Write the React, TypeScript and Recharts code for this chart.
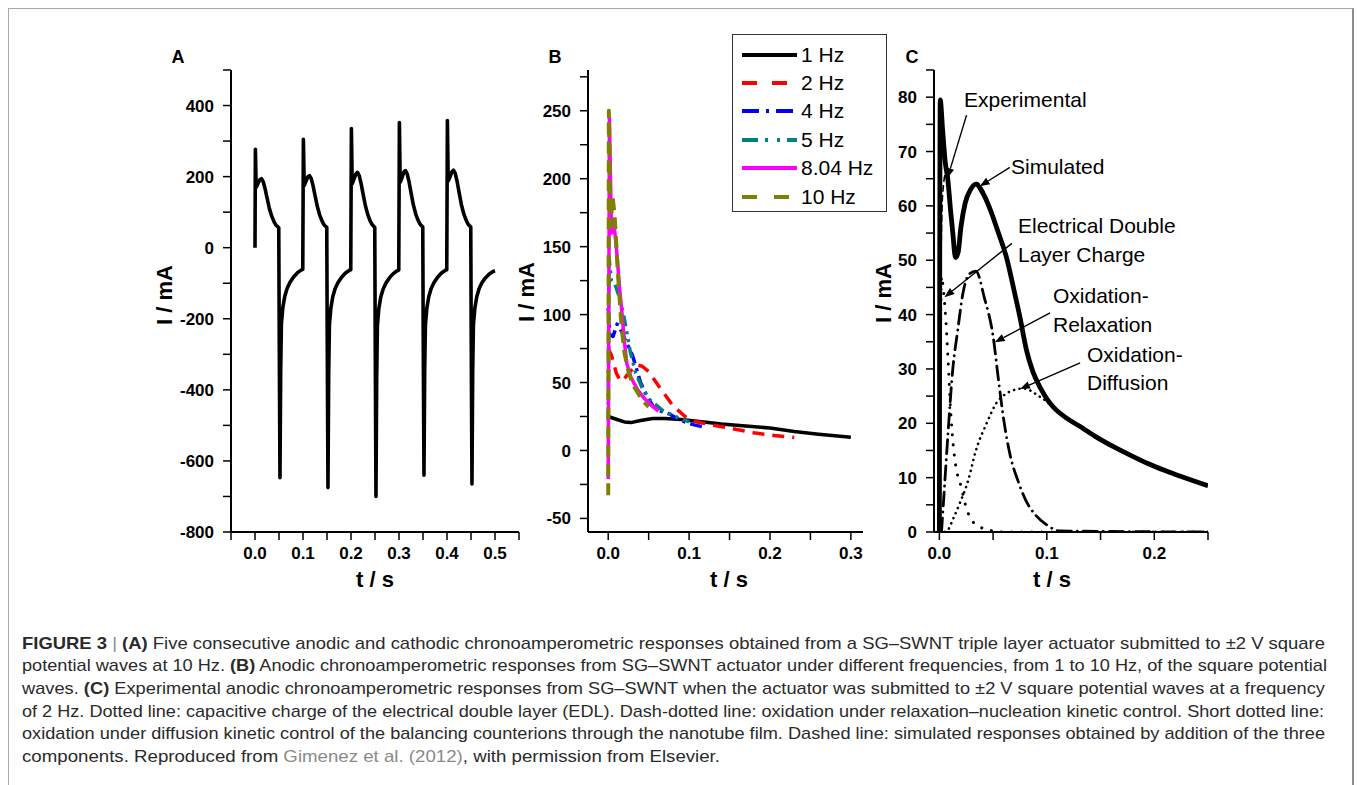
import React from 'react';
import { LineChart, Line, XAxis, YAxis, ReferenceLine } from 'recharts';

// ---------------- Panel A: 10 Hz, five cycles ----------------
const panelA: number[][] = [
  [0, 0], [0.0008, 277], [0.0025, 170], [0.006, 180], [0.01, 191], [0.0135, 194], [0.017, 186], [0.021, 166], [0.025, 141], [0.03, 110], [0.035, 88], [0.04, 72], [0.044, 63], [0.0495, 56],
  [0.0505, -250], [0.052, -647], [0.0535, -350], [0.055, -215], [0.058, -168], [0.062, -137], [0.067, -114], [0.073, -97], [0.08, -83], [0.088, -71], [0.096, -63], [0.0995, -61],
  [0.1008, 305], [0.1025, 175], [0.106, 186], [0.11, 199], [0.1135, 203], [0.117, 195], [0.121, 174], [0.125, 147], [0.13, 115], [0.135, 91], [0.14, 74], [0.144, 64], [0.1495, 57],
  [0.1505, -260], [0.152, -675], [0.1535, -360], [0.155, -218], [0.158, -170], [0.162, -138], [0.167, -115], [0.173, -98], [0.18, -84], [0.188, -72], [0.196, -64], [0.1995, -62],
  [0.2008, 335], [0.2025, 180], [0.206, 192], [0.21, 207], [0.2135, 212], [0.217, 203], [0.221, 181], [0.225, 152], [0.23, 118], [0.235, 93], [0.24, 75], [0.244, 65], [0.2495, 57],
  [0.2505, -270], [0.252, -700], [0.2535, -370], [0.255, -220], [0.258, -171], [0.262, -139], [0.267, -116], [0.273, -99], [0.28, -85], [0.288, -73], [0.296, -65], [0.2995, -63],
  [0.3008, 352], [0.3025, 184], [0.306, 196], [0.31, 212], [0.3135, 217], [0.317, 208], [0.321, 185], [0.325, 155], [0.33, 120], [0.335, 94], [0.34, 76], [0.344, 66], [0.3495, 58],
  [0.3505, -260], [0.352, -640], [0.3535, -350], [0.355, -218], [0.358, -170], [0.362, -138], [0.367, -115], [0.373, -98], [0.38, -84], [0.388, -72], [0.396, -64], [0.3995, -62],
  [0.4008, 358], [0.4025, 188], [0.406, 198], [0.41, 213], [0.4135, 218], [0.417, 210], [0.421, 187], [0.425, 157], [0.43, 121], [0.435, 95], [0.44, 77], [0.444, 66], [0.4495, 58],
  [0.4505, -265], [0.452, -665], [0.4535, -355], [0.455, -218], [0.458, -170], [0.462, -138], [0.467, -115], [0.473, -98], [0.48, -85], [0.488, -74], [0.496, -67], [0.5, -65],
];

// ---------------- Panel B: anodic responses at several frequencies ----------------
const bHz1: number[][] = [[0, 25], [0.01, 23], [0.02, 21], [0.028, 20.5], [0.04, 22], [0.055, 23.5], [0.07, 23.5], [0.09, 22.8], [0.11, 21.5], [0.14, 19.5], [0.17, 18], [0.2, 16.5], [0.23, 14], [0.26, 12], [0.3, 9.8]];
const bHz2: number[][] = [[0, 75], [0.004, 70], [0.01, 57], [0.015, 51], [0.02, 53], [0.027, 58], [0.035, 63], [0.042, 62], [0.05, 58], [0.064, 46], [0.08, 33], [0.095, 25], [0.11, 21], [0.13, 18.5], [0.15, 16.5], [0.18, 13], [0.205, 11], [0.23, 9.5]];
const bHz4: number[][] = [[0, 105], [0.002, 85], [0.006, 84], [0.011, 93], [0.016, 88], [0.022, 80], [0.03, 70], [0.04, 50], [0.048, 40], [0.056, 32], [0.065, 29], [0.075, 27], [0.09, 22], [0.105, 19], [0.12, 17]];
const bHz5: number[][] = [[0, 22], [0.001, 142], [0.004, 125], [0.008, 123], [0.013, 114], [0.019, 100], [0.0275, 72], [0.034, 57], [0.042, 46], [0.05, 38], [0.066, 30], [0.083, 25], [0.1, 21]];
const bHz804: number[][] = [[0, -21], [0.0015, 245], [0.004, 160], [0.007, 167], [0.01, 150], [0.014, 120], [0.017, 101], [0.02, 80], [0.023, 64], [0.028, 54], [0.036, 45], [0.045, 38], [0.054, 33], [0.062, 29]];
const bHz10: number[][] = [[0, -33], [0.0008, 250], [0.003, 165], [0.0055, 187], [0.008, 172], [0.012, 130], [0.016, 95], [0.02, 72], [0.025, 58], [0.03, 49], [0.036, 43], [0.042, 37], [0.05, 32]];
const bNames = ['1 Hz', '2 Hz', '4 Hz', '5 Hz', '8.04 Hz', '10 Hz'];

// ---------------- Panel C: 2 Hz experimental + model components ----------------
const cExperimental: number[][] = [[0, 0], [0.0008, 79.5], [0.003, 74], [0.0055, 68], [0.0078, 65], [0.0105, 59], [0.0125, 55], [0.015, 50.5], [0.0175, 51.5], [0.02, 56], [0.024, 60.5], [0.029, 63], [0.034, 64], [0.04, 62.5], [0.047, 59.5], [0.055, 55], [0.0625, 50.5], [0.07, 44], [0.075, 39.5], [0.081, 33.5], [0.087, 29.5], [0.094, 26.5], [0.1, 24.5], [0.106, 23], [0.118, 21], [0.131, 19.4], [0.145, 17.6], [0.162, 15.7], [0.178, 14.1], [0.194, 12.6], [0.21, 11.3], [0.225, 10.2], [0.25, 8.5]];
const cSimulated: number[][] = [[0, 0], [0.001, 40], [0.003, 62], [0.006, 66], [0.009, 61], [0.012, 55], [0.015, 51.5], [0.018, 52.5], [0.021, 56.5], [0.025, 61], [0.03, 63.5], [0.035, 64.3], [0.041, 62.8], [0.048, 59.5], [0.056, 54.5], [0.063, 50], [0.07, 44.2], [0.076, 39], [0.082, 33], [0.088, 29.2], [0.095, 26.3], [0.1, 24.6], [0.11, 22.5], [0.125, 20.2], [0.145, 17.7], [0.165, 15.5], [0.19, 13], [0.22, 10.6], [0.25, 8.6]];
const cDoubleLayer: number[][] = [[0, 0], [0.002, 47], [0.004, 44], [0.006, 39], [0.008, 32], [0.01, 24], [0.012, 18], [0.015, 12.5], [0.02, 8.5], [0.025, 4.5], [0.03, 2.2], [0.04, 0.7], [0.05, 0.2], [0.06, 0], [0.25, 0]];
const cRelaxation: number[][] = [[0.002, 0], [0.004, 6], [0.008, 18], [0.0125, 30], [0.017, 37], [0.022, 44], [0.028, 47.5], [0.034, 48], [0.042, 43], [0.05, 36], [0.055, 28], [0.06, 20.5], [0.066, 14], [0.073, 9.5], [0.08, 6], [0.09, 3], [0.1, 1.3], [0.112, 0.2], [0.25, 0]];
const cDiffusion: number[][] = [[0.005, 0], [0.008, 0.4], [0.013, 2.5], [0.019, 5.3], [0.027, 9.6], [0.034, 15], [0.044, 20], [0.053, 23.7], [0.061, 25.3], [0.069, 26.1], [0.078, 26.4], [0.085, 26], [0.091, 25.2], [0.1, 24], [0.106, 23], [0.118, 21], [0.131, 19.4], [0.145, 17.6], [0.162, 15.7], [0.178, 14.1], [0.194, 12.6], [0.21, 11.3], [0.225, 10.2], [0.25, 8.5]];
// annotation arrows: [tailT, tailI, headT, headI]
const cArrows: number[][] = [[0.0253, 76.7, 0.0075, 65.1], [0.0656, 67.1, 0.0375, 63.6], [0.0675, 53.1, 0.0047, 43.2], [0.103, 40.3, 0.0515, 34.9], [0.131, 31.1, 0.075, 26.3]];

// ---------------- ticks ----------------
const aXTicks = [-0.05, 0, 0.05, 0.1, 0.15, 0.2, 0.25, 0.3, 0.35, 0.4, 0.45, 0.5, 0.55];
const aXLabels = [0, 0.1, 0.2, 0.3, 0.4, 0.5];
const aYTicks = [-800, -700, -600, -500, -400, -300, -200, -100, 0, 100, 200, 300, 400, 500];
const aYLabels = [-800, -600, -400, -200, 0, 200, 400];
const bXTicks = [0, 0.05, 0.1, 0.15, 0.2, 0.25, 0.3];
const bXLabels = [0, 0.1, 0.2, 0.3];
const bYTicks = [-50, -25, 0, 25, 50, 75, 100, 125, 150, 175, 200, 225, 250, 275];
const bYLabels = [-50, 0, 50, 100, 150, 200, 250];
const cXTicks = [0, 0.05, 0.1, 0.15, 0.2, 0.25];
const cXLabels = [0, 0.1, 0.2];
const cYTicks = [0, 5, 10, 15, 20, 25, 30, 35, 40, 45, 50, 55, 60, 65, 70, 75, 80, 85];
const cYLabels = [0, 10, 20, 30, 40, 50, 60, 70, 80];

const toPts = (a: number[][]) => a.map(([t, v]) => ({ t, v }));
const has = (list: number[], v: number) => list.some((x) => Math.abs(x - v) < 1e-9);
const fmtX = (list: number[]) => (v: number) => (has(list, v) ? v.toFixed(1) : '');
const fmtY = (list: number[]) => (v: number) => (has(list, v) ? String(v) : '');

const FONT = '"Liberation Sans", Arial, Helvetica, sans-serif';
const tickStyle = { fill: '#000', fontSize: 17, fontWeight: 700, fontFamily: FONT };
const axisLine = { stroke: '#000', strokeWidth: 2 };
const tickLine = { stroke: '#000', strokeWidth: 1.5 };

const Arrow = (props: any) => {
  const { x1, y1, x2, y2 } = props;
  const ang = Math.atan2(y2 - y1, x2 - x1);
  const L = 10;
  const W = 3.8;
  const bx = x2 - L * Math.cos(ang);
  const by = y2 - L * Math.sin(ang);
  const p1x = bx + W * Math.sin(ang);
  const p1y = by - W * Math.cos(ang);
  const p2x = bx - W * Math.sin(ang);
  const p2y = by + W * Math.cos(ang);
  return (
    <g>
      <line x1={x1} y1={y1} x2={bx} y2={by} stroke="#000" strokeWidth={1.4} />
      <polygon points={`${x2},${y2} ${p1x},${p1y} ${p2x},${p2y}`} fill="#000" />
    </g>
  );
};

const abs = (left: number, top: number, extra: React.CSSProperties = {}): React.CSSProperties => ({
  position: 'absolute',
  left,
  top,
  ...extra,
});

const Txt = ({ x, y, children, size = 21, bold = false, center = false, rotate = false }: any) => (
  <div
    style={{
      position: 'absolute',
      left: x,
      top: y,
      fontFamily: FONT,
      fontSize: size,
      fontWeight: bold ? 700 : 400,
      lineHeight: '26px',
      whiteSpace: 'nowrap',
      color: '#000',
      transform: rotate
        ? 'translate(-50%, -50%) rotate(-90deg)'
        : center
        ? 'translate(-50%, -50%)'
        : 'translate(0, -50%)',
    }}
  >
    {children}
  </div>
);

const legendItems = [
  { name: bNames[0], color: '#000000', dash: undefined, w: 4 },
  { name: bNames[1], color: '#ff0000', dash: '15 15', w: 4 },
  { name: bNames[2], color: '#0000ff', dash: '17 7 3 7', w: 4 },
  { name: bNames[3], color: '#008080', dash: '16 7 3 9 3 7', w: 4 },
  { name: bNames[4], color: '#ff00ff', dash: undefined, w: 4 },
  { name: bNames[5], color: '#808000', dash: '15 17', w: 4 },
];
const bSeries = [bHz1, bHz2, bHz4, bHz5, bHz804, bHz10];
const bPlotDash = [undefined, '12 8', '12 5 3 5', '11 5 3 5 3 5', undefined, '12 7'];

const captionLines: { parts: { s: string; b?: boolean; g?: boolean }[]; w: number }[] = [
  {
    parts: [
      { s: 'FIGURE 3', b: true },
      { s: ' | ', g: true },
      { s: '(A)', b: true },
      { s: ' Five consecutive anodic and cathodic chronoamperometric responses obtained from a SG–SWNT triple layer actuator submitted to ±2 V square' },
    ],
    w: 1303,
  },
  {
    parts: [
      { s: 'potential waves at 10 Hz. ' },
      { s: '(B)', b: true },
      { s: ' Anodic chronoamperometric responses from SG–SWNT actuator under different frequencies, from 1 to 10 Hz, of the square potential' },
    ],
    w: 1305,
  },
  {
    parts: [
      { s: 'waves. ' },
      { s: '(C)', b: true },
      { s: ' Experimental anodic chronoamperometric responses from SG–SWNT when the actuator was submitted to ±2 V square potential waves at a frequency' },
    ],
    w: 1303,
  },
  {
    parts: [
      { s: 'of 2 Hz. Dotted line: capacitive charge of the electrical double layer (EDL). Dash-dotted line: oxidation under relaxation–nucleation kinetic control. Short dotted line:' },
    ],
    w: 1302,
  },
  {
    parts: [
      { s: 'oxidation under diffusion kinetic control of the balancing counterions through the nanotube film. Dashed line: simulated responses obtained by addition of the three' },
    ],
    w: 1303,
  },
  {
    parts: [
      { s: 'components. Reproduced from ' },
      { s: 'Gimenez et al. (2012)', g: true },
      { s: ', with permission from Elsevier.' },
    ],
    w: 698,
  },
];

export default function App() {
  return (
    <div
      style={{
        position: 'fixed',
        left: 0,
        top: 0,
        width: 1357,
        height: 785,
        overflow: 'hidden',
        background: '#fff',
      }}
    >
      {/* figure frame */}
      <div
        style={abs(8, 8, {
          width: 1343,
          height: 800,
          borderTop: '1px solid #a8a8a8',
          borderLeft: '1px solid #a8a8a8',
          borderRight: '2px solid #8c8c8c',
        })}
      />

      {/* Panel A */}
      <div style={abs(140, 40)}>
        <LineChart width={390} height={560} margin={{ top: 30, right: 11, bottom: 0, left: 0 }}>
          <XAxis
            dataKey="t"
            type="number"
            domain={[-0.05, 0.55]}
            ticks={aXTicks}
            interval={0}
            tickFormatter={fmtX(aXLabels)}
            tick={tickStyle}
            axisLine={axisLine}
            tickLine={tickLine}
            tickSize={8}
            tickMargin={7}
            height={68}
            allowDataOverflow
          />
          <YAxis
            dataKey="v"
            type="number"
            domain={[-800, 500]}
            ticks={aYTicks}
            interval={0}
            tickFormatter={fmtY(aYLabels)}
            tick={tickStyle}
            axisLine={axisLine}
            tickLine={tickLine}
            tickSize={8}
            tickMargin={9}
            width={91}
            allowDataOverflow
          />
          <Line data={toPts(panelA)} dataKey="v" type="linear" stroke="#000" strokeWidth={3.6} dot={false} isAnimationActive={false} strokeLinejoin="round" />
        </LineChart>
      </div>

      {/* Panel B */}
      <div style={abs(500, 40)}>
        <LineChart width={368} height={560} margin={{ top: 30, right: 5, bottom: 0, left: 0 }}>
          <XAxis
            dataKey="t"
            type="number"
            domain={[-0.025, 0.315]}
            ticks={bXTicks}
            interval={0}
            tickFormatter={fmtX(bXLabels)}
            tick={tickStyle}
            axisLine={axisLine}
            tickLine={tickLine}
            tickSize={8}
            tickMargin={7}
            height={68}
            allowDataOverflow
          />
          <YAxis
            dataKey="v"
            type="number"
            domain={[-60, 280]}
            ticks={bYTicks}
            interval={0}
            tickFormatter={fmtY(bYLabels)}
            tick={tickStyle}
            axisLine={axisLine}
            tickLine={tickLine}
            tickSize={8}
            tickMargin={9}
            width={88}
            allowDataOverflow
          />
          {bSeries.map((s, i) => (
            <Line
              key={bNames[i]}
              name={bNames[i]}
              data={toPts(s)}
              dataKey="v"
              type="linear"
              stroke={legendItems[i].color}
              strokeWidth={i === 5 ? 4 : 3.5}
              strokeDasharray={bPlotDash[i]}
              dot={false}
              isAnimationActive={false}
              strokeLinejoin="round"
            />
          ))}
        </LineChart>
      </div>

      {/* Panel C */}
      <div style={abs(850, 40)}>
        <LineChart width={368} height={560} margin={{ top: 30, right: 10, bottom: 0, left: 0 }}>
          <XAxis
            dataKey="t"
            type="number"
            domain={[-0.005, 0.25]}
            ticks={cXTicks}
            interval={0}
            tickFormatter={fmtX(cXLabels)}
            tick={tickStyle}
            axisLine={axisLine}
            tickLine={tickLine}
            tickSize={8}
            tickMargin={7}
            height={68}
            allowDataOverflow
          />
          <YAxis
            dataKey="v"
            type="number"
            domain={[0, 85]}
            ticks={cYTicks}
            interval={0}
            tickFormatter={fmtY(cYLabels)}
            tick={tickStyle}
            axisLine={axisLine}
            tickLine={tickLine}
            tickSize={8}
            tickMargin={9}
            width={84}
            allowDataOverflow
          />
          <Line data={toPts(cDoubleLayer)} dataKey="v" name="Electrical Double Layer Charge" type="monotone" stroke="#000" strokeWidth={3} strokeDasharray="0.1 10" strokeLinecap="round" dot={false} isAnimationActive={false} />
          <Line data={toPts(cRelaxation)} dataKey="v" name="Oxidation-Relaxation" type="monotone" stroke="#000" strokeWidth={2.8} strokeDasharray="14 6 0.1 6" strokeLinecap="round" dot={false} isAnimationActive={false} />
          <Line data={toPts(cDiffusion)} dataKey="v" name="Oxidation-Diffusion" type="monotone" stroke="#000" strokeWidth={2.6} strokeDasharray="0.1 5.5" strokeLinecap="round" dot={false} isAnimationActive={false} />
          <Line data={toPts(cExperimental)} dataKey="v" name="Experimental" type="monotone" stroke="#000" strokeWidth={4.8} dot={false} isAnimationActive={false} strokeLinejoin="round" />
          <Line data={toPts(cSimulated)} dataKey="v" name="Simulated" type="monotone" stroke="#000" strokeWidth={1.6} strokeDasharray="7 3" dot={false} isAnimationActive={false} />
          {cArrows.map((a, i) => (
            <ReferenceLine
              key={i}
              segment={[{ x: a[0], y: a[1] }, { x: a[2], y: a[3] }]}
              ifOverflow="visible"
              shape={Arrow}
            />
          ))}
        </LineChart>
      </div>

      {/* Legend for B */}
      <div
        style={abs(732, 34, {
          width: 155,
          height: 178,
          boxSizing: 'border-box',
          border: '1.5px solid #333',
          background: '#fff',
        })}
      >
        {legendItems.map((it, i) => {
          const cy = [20, 48, 76, 105, 133, 162][i];
          return (
            <div key={it.name} style={abs(0, cy - 13, { height: 26, width: 155 })}>
              <svg width={60} height={26} style={{ position: 'absolute', left: 7, top: 0 }}>
                <line x1={2} y1={13} x2={57} y2={13} stroke={it.color} strokeWidth={it.w} strokeDasharray={it.dash} />
              </svg>
              <div
                style={{
                  position: 'absolute',
                  left: 68,
                  top: 0,
                  lineHeight: '26px',
                  fontFamily: FONT,
                  fontSize: 21,
                  whiteSpace: 'nowrap',
                  color: '#000',
                }}
              >
                {it.name}
              </div>
            </div>
          );
        })}
      </div>

      {/* Panel letters */}
      <Txt x={178} y={57} size={18} bold center>A</Txt>
      <Txt x={555} y={57} size={18} bold center>B</Txt>
      <Txt x={912} y={57} size={18} bold center>C</Txt>

      {/* Axis titles */}
      <Txt x={165} y={295} size={22} bold rotate>I / mA</Txt>
      <Txt x={527} y={292} size={22} bold rotate>I / mA</Txt>
      <Txt x={884} y={293} size={22} bold rotate>I / mA</Txt>
      <Txt x={375} y={580} size={22} bold center>t / s</Txt>
      <Txt x={729} y={580} size={22} bold center>t / s</Txt>
      <Txt x={1052} y={580} size={22} bold center>t / s</Txt>

      {/* Annotations in C */}
      <Txt x={964} y={100}>Experimental</Txt>
      <Txt x={1011} y={167}>Simulated</Txt>
      <Txt x={1018} y={226}>Electrical Double</Txt>
      <Txt x={1018} y={255}>Layer Charge</Txt>
      <Txt x={1053} y={296}>Oxidation-</Txt>
      <Txt x={1053} y={325}>Relaxation</Txt>
      <Txt x={1087} y={355}>Oxidation-</Txt>
      <Txt x={1087} y={383}>Diffusion</Txt>

      {/* Caption */}
      <svg width={1357} height={185} style={abs(0, 600)}>
        {captionLines.map((ln, i) => (
          <text
            key={i}
            x={22}
            y={48.5 + i * 22.7}
            textLength={ln.w}
            lengthAdjust="spacingAndGlyphs"
            fontFamily={FONT}
            fontSize={17}
            fill="#2a2a2a"
          >
            {ln.parts.map((p, j) => (
              <tspan key={j} fontWeight={p.b ? 700 : 400} fill={p.g ? '#8a8a8a' : undefined}>
                {p.s}
              </tspan>
            ))}
          </text>
        ))}
      </svg>
    </div>
  );
}
